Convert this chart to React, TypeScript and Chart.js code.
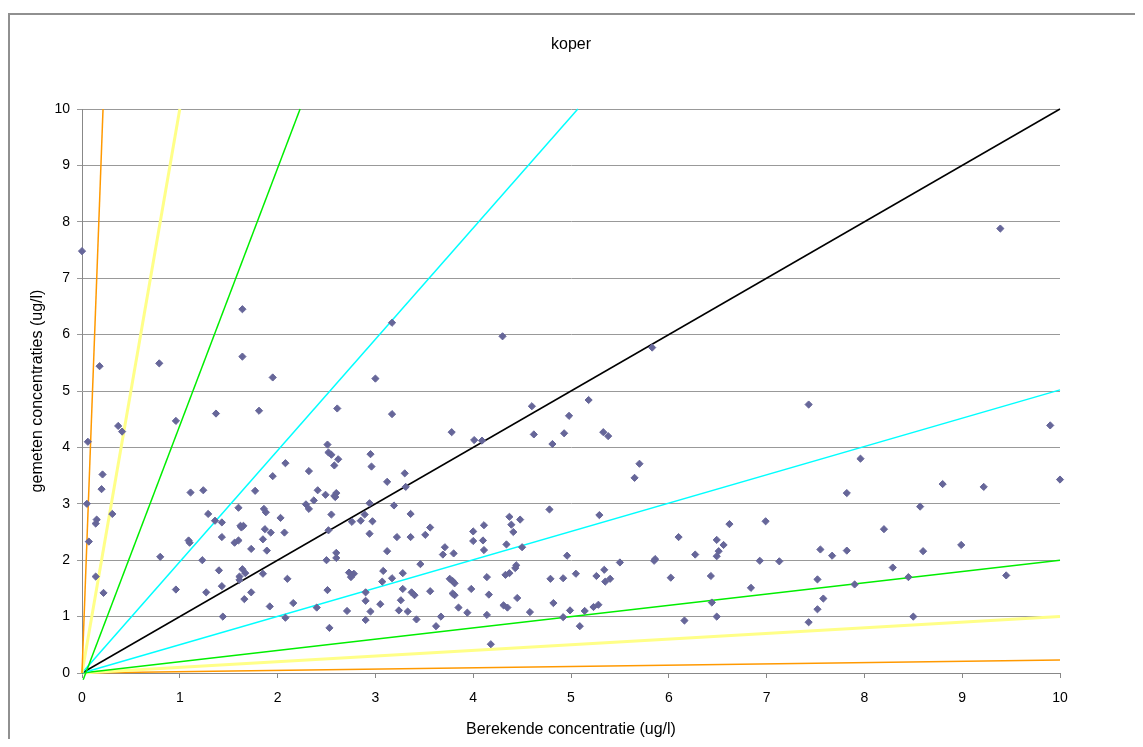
import React, { useEffect, useRef } from "react";
import { Chart, registerables } from "chart.js";

Chart.register(...registerables);

const chartTitle = "koper";
const xAxisTitle = "Berekende concentratie (ug/l)";
const yAxisTitle = "gemeten concentraties (ug/l)";

// Berekende concentratie (x) and gemeten concentratie (y), ug/l
const berekend = [
  0.0, 0.18, 0.79, 1.64, 1.64, 1.95, 3.17, 3.0, 4.3, 5.83, 9.39,
  0.06, 0.05, 0.07, 0.21, 0.2, 0.15, 0.14, 0.14, 0.22, 0.31, 0.37, 0.41, 0.96, 0.8, 0.96,
  1.37, 1.81, 1.11, 1.09, 1.1, 1.24, 1.29, 1.23, 1.27, 1.36, 1.43, 1.43, 1.4, 1.43, 1.44,
  1.6, 1.56, 1.6, 1.62, 1.65, 1.63, 1.73, 1.64, 1.67, 1.61, 1.61, 1.66, 1.73, 1.77, 1.86,
  1.88, 1.85, 1.87, 1.93, 1.89, 1.85, 1.95, 2.08, 2.03, 2.07, 2.1, 1.92, 2.08, 2.16, 2.32,
  2.29, 2.32, 2.37, 2.41, 2.4,
  2.61, 3.17, 3.78, 4.01, 4.09, 4.6, 4.62, 4.81, 2.51, 2.52, 2.55, 2.62, 2.58, 2.95, 2.96,
  3.3, 3.12, 3.31, 2.49, 2.58, 2.6, 2.59, 2.94, 3.19, 2.55, 2.89, 2.85, 2.76, 2.97, 3.36,
  2.52, 2.94, 3.22, 3.36, 3.56, 3.51, 3.71, 3.69, 3.8, 4.0, 4.0, 4.11, 4.1, 4.11, 4.37,
  4.39, 4.48, 4.41, 4.34, 4.5, 4.78, 2.6, 2.6, 2.5, 3.12, 3.46, 2.73, 2.78, 2.75, 3.08,
  3.07, 3.17, 3.28, 2.51, 2.9, 2.9, 2.71, 2.95, 2.9, 3.05, 3.26, 3.28, 3.24, 3.33, 3.37,
  3.4, 3.42, 3.56, 3.67, 3.62, 3.76, 3.79, 3.81, 3.79, 3.81, 3.85, 3.94, 3.98, 4.14, 4.16,
  4.14, 4.18, 4.33, 4.37, 4.44, 4.43, 4.45, 4.31, 4.35, 4.58, 4.79, 4.82, 2.53,
  5.18, 4.98, 4.93, 5.33, 5.38, 5.7, 5.65, 5.29, 6.1, 6.62, 6.99, 6.49, 6.56, 6.51, 6.49,
  6.27, 4.96, 5.86, 5.85, 5.5, 6.93, 7.13, 4.92, 5.05, 5.26, 5.34, 5.35, 5.4, 6.02, 6.43,
  6.84, 4.92, 4.99, 5.09, 5.14, 5.23, 5.28, 6.44, 6.49, 6.16,
  7.43, 9.9, 7.96, 10.0, 7.82, 8.8, 9.22, 8.57, 8.2, 7.55, 7.67, 7.82, 8.6, 8.99, 8.29,
  7.52, 8.45, 7.9, 9.45, 7.58, 7.52, 7.43, 8.5,
];

const gemeten = [
  7.48, 5.44, 5.49, 6.45, 5.61, 5.24, 6.21, 5.22, 5.97, 5.77, 7.88,
  4.1, 3.0, 2.33, 3.52, 3.26, 2.72, 2.65, 1.71, 1.42, 2.82, 4.38, 4.28, 4.47, 2.06, 1.48,
  4.6, 4.65, 3.2, 2.35, 2.31, 3.24, 2.82, 2.0, 1.43, 2.7, 2.67, 2.41, 1.82, 1.54, 1.0,
  2.93, 2.31, 2.35, 2.61, 2.61, 2.58, 2.2, 1.84, 1.77, 1.71, 1.65, 1.31, 1.43, 3.23, 2.91,
  2.85, 2.37, 2.55, 2.49, 2.17, 1.76, 3.49, 3.72, 2.75, 2.49, 1.67, 1.18, 0.98, 1.24, 3.58,
  2.99, 2.91, 3.06, 3.24, 1.16,
  4.69, 4.59, 4.27, 4.13, 4.12, 4.73, 4.23, 4.06, 4.05, 3.91, 3.87, 3.79, 3.68, 3.88, 3.66,
  3.54, 3.39, 3.3, 3.16, 3.14, 3.19, 3.12, 3.01, 2.97, 2.81, 2.81, 2.7, 2.68, 2.69, 2.82,
  2.53, 2.47, 2.41, 2.41, 2.58, 2.45, 2.23, 2.1, 2.12, 2.51, 2.34, 2.62, 2.35, 2.18, 2.77,
  2.63, 2.72, 2.5, 2.28, 2.23, 2.9, 2.13, 2.04, 2.0, 2.16, 1.93, 1.78, 1.76, 1.7, 1.81,
  1.62, 1.68, 1.77, 1.47, 1.43, 1.28, 1.1, 1.09, 0.94, 1.22, 1.29, 1.49, 1.11, 1.09, 1.43,
  1.38, 0.95, 1.45, 1.0, 0.83, 1.67, 1.63, 1.59, 1.41, 1.38, 1.16, 1.07, 1.49, 1.7, 1.39,
  1.03, 0.51, 1.74, 1.77, 1.91, 1.86, 1.33, 1.2, 1.16, 1.08, 1.67, 1.24, 0.8,
  4.84, 4.56, 4.25, 4.27, 4.2, 3.71, 3.46, 2.8, 2.41, 2.64, 2.69, 2.36, 2.27, 2.16, 2.07,
  2.1, 2.08, 2.02, 1.99, 1.96, 1.99, 1.98, 1.68, 1.76, 1.72, 1.83, 1.62, 1.67, 1.69, 1.72,
  1.51, 0.99, 1.11, 0.83, 1.1, 1.17, 1.21, 1.25, 1.0, 0.93,
  4.76, 4.39, 3.8, 3.43, 3.19, 3.35, 3.3, 2.95, 2.55, 2.19, 2.08, 2.17, 2.16, 2.27, 1.87,
  1.66, 1.7, 1.57, 1.73, 1.32, 1.13, 0.9, 1.0,
];

// Reference lines from the origin (ratio lines)
const refLineNames = ["50x", "10x", "5x", "2x", "1:1", "1/2", "1/5", "1/10", "1/50"];
const refLineStartX = [0, 0, 0.012, 0, 0, 0, 0, 0, 0];
const refLineStartY = [0, 0, -0.12, 0, 0, 0, 0, 0, 0];
const refLineEndX = [0.215, 1.0, 2.23, 5.07, 10, 10, 10, 10, 10];
const refLineEndY = [10, 10, 10, 10, 10, 5.02, 2.0, 1.0, 0.23];
const refLineColors = ["#FF9900", "#FFFF88", "#00EE00", "#00FFFF", "#000000", "#00FFFF", "#00EE00", "#FFFF88", "#FF9900"];
const refLineWidths = [1.5, 3, 1.5, 1.5, 1.5, 1.5, 1.5, 3, 1.5];

const axisMin = 0;
const axisMax = 10;
const axisStep = 1;

const FONT = "'Liberation Sans', Arial, sans-serif";

export default function App() {
  const canvasRef = useRef<HTMLCanvasElement | null>(null);

  useEffect(() => {
    const canvas = canvasRef.current;
    if (!canvas) return;

    const scatterData = berekend.map((x, i) => ({ x, y: gemeten[i] }));
    const lineSets = refLineNames.map((name, i) => ({
      type: "line" as const,
      label: name,
      data: [
        { x: refLineStartX[i], y: refLineStartY[i] },
        { x: refLineEndX[i], y: refLineEndY[i] },
      ],
      borderColor: refLineColors[i],
      backgroundColor: refLineColors[i],
      borderWidth: refLineWidths[i],
      pointRadius: 0,
      showLine: true,
      fill: false,
      tension: 0,
      clip: false as any,
      order: 2,
    }));

    const chart = new Chart(canvas, {
      type: "scatter",
      data: {
        datasets: [
          {
            label: "koper",
            data: scatterData,
            backgroundColor: "#666699",
            borderColor: "#666699",
            borderWidth: 1,
            pointStyle: "rectRot",
            pointRadius: 3.6,
            clip: false as any,
            order: 1,
          } as any,
          ...lineSets,
        ],
      },
      options: {
        animation: false,
        responsive: false,
        maintainAspectRatio: false,
        layout: { padding: { left: 0, right: 83, top: 0, bottom: 0 } },
        plugins: {
          legend: { display: false },
          tooltip: { enabled: false },
          title: {
            display: true,
            text: chartTitle,
            fullSize: false,
            color: "#000",
            font: { family: FONT, size: 16, weight: "normal" },
            padding: { top: 27.4, bottom: 54.4 },
          },
        },
        scales: {
          x: {
            type: "linear",
            min: axisMin,
            max: axisMax,
            afterFit: (scale: any) => {
              scale.height = 66;
            },
            ticks: {
              stepSize: axisStep,
              color: "#000",
              padding: 12,
              font: { family: FONT, size: 14 },
              maxRotation: 0,
            },
            grid: {
              drawOnChartArea: false,
              drawTicks: true,
              tickLength: 5,
              color: "#888",
            },
            border: { display: true, color: "#888", width: 1 },
            title: {
              display: true,
              text: xAxisTitle,
              color: "#000",
              font: { family: FONT, size: 16 },
              padding: { top: 0, bottom: 0 },
            },
          },
          y: {
            type: "linear",
            min: axisMin,
            max: axisMax,
            afterFit: (scale: any) => {
              scale.width = 74;
            },
            ticks: {
              stepSize: axisStep,
              color: "#000",
              padding: 7,
              font: { family: FONT, size: 14 },
            },
            grid: {
              drawOnChartArea: true,
              drawTicks: true,
              tickLength: 5,
              color: "#999",
            },
            border: { display: true, color: "#888", width: 1 },
            title: {
              display: true,
              text: yAxisTitle,
              color: "#000",
              font: { family: FONT, size: 16 },
              padding: { top: 20.4, bottom: 0 },
            },
          },
        },
      } as any,
    });

    return () => {
      chart.destroy();
    };
  }, []);

  return (
    <div style={{ position: "relative", width: 1135, height: 731, overflow: "hidden" }}>
      <div
        style={{
          position: "absolute",
          left: 0,
          top: 5,
          width: 1400,
          height: 1000,
          borderLeft: "2px solid #909090",
          borderTop: "2px solid #909090",
          boxSizing: "border-box",
        }}
      />
      <canvas
        ref={canvasRef}
        width={1135}
        height={731}
        style={{ position: "absolute", left: 0, top: 0, width: 1135, height: 731 }}
      />
    </div>
  );
}
